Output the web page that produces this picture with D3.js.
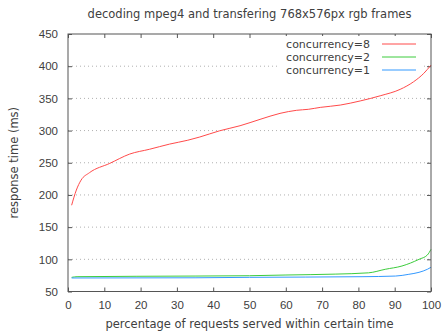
<!DOCTYPE html>
<html>
<head>
<meta charset="utf-8">
<script src="https://cdn.jsdelivr.net/npm/d3@7"></script>
<style>
  body { margin: 0; background: #fff; }
  svg { display: block; font-family: "DejaVu Sans", sans-serif; }
</style>
</head>
<body>
<div id="chart"></div>
<script>
// values
const pct8 = [1, 2.3, 3.6, 5.9, 11.5, 17, 22.5, 28, 33, 36.3, 41.8, 47.4, 52.9, 58.4, 63, 66.2, 69.5, 75, 80.5, 86, 91.5, 95.2, 98, 100];
const conc8 = [184, 207.6, 223, 234.5, 249, 263.5, 271, 279, 285, 290, 299.7, 307.5, 317.4, 326.7, 331.5, 333, 336, 339.6, 346, 354, 364, 375.8, 388.8, 401.7];

const pct2 = [1, 2.5, 35, 50, 59.8, 73.6, 82.8, 87.4, 92, 96.7, 99, 100];
const conc2 = [72, 73, 74, 74.5, 75.6, 77, 79, 84.5, 89.6, 100, 106.7, 115.5];

const pct1 = [1, 35, 50, 81, 90.2, 93.9, 96.7, 99, 100];
const conc1 = [71, 71.3, 72, 73, 74, 76.7, 79.8, 84.5, 87.6];

const series = [
  {name: "concurrency=8", pct: pct8, val: conc8, color: "#ff4a4a"},
  {name: "concurrency=2", pct: pct2, val: conc2, color: "#3ccc3c"},
  {name: "concurrency=1", pct: pct1, val: conc1, color: "#3399ff"}
];

const xTicks = d3.range(0, 101, 10);
const yTicks = d3.range(50, 451, 50);

const width = 443, height = 331;
const margin = {top: 34, right: 12, bottom: 39.5, left: 68};
const textColor = "#404040";
const frameColor = "#555";

const svg = d3.select("#chart").append("svg")
  .attr("width", width)
  .attr("height", height);

const x = d3.scaleLinear().domain([0, 100]).range([margin.left, width - margin.right]);
const y = d3.scaleLinear().domain([50, 450]).range([height - margin.bottom, margin.top]);

// grid
svg.append("g")
  .selectAll("line")
  .data(yTicks.slice(1, -1))
  .join("line")
  .attr("x1", x(0)).attr("x2", x(100))
  .attr("y1", d => y(d)).attr("y2", d => y(d))
  .attr("stroke", "#b0b0b0")
  .attr("stroke-dasharray", "1,3");

// axes (ticks inside, mirrored)
const fontSize = 11.5;
function styleAxis(g, showText) {
  g.select(".domain").remove();
  g.selectAll("line").attr("stroke", frameColor);
  g.selectAll("text")
    .attr("fill", textColor)
    .style("font-size", fontSize + "px")
    .style("display", showText ? null : "none");
}

svg.append("g")
  .attr("transform", `translate(0,${y(50)})`)
  .call(d3.axisBottom(x).tickValues(xTicks).tickSize(-4).tickPadding(9))
  .call(g => styleAxis(g, true));

svg.append("g")
  .attr("transform", `translate(0,${y(450)})`)
  .call(d3.axisTop(x).tickValues(xTicks).tickSize(-4))
  .call(g => styleAxis(g, false));

svg.append("g")
  .attr("transform", `translate(${x(0)},0)`)
  .call(d3.axisLeft(y).tickValues(yTicks).tickSize(-4).tickPadding(10))
  .call(g => styleAxis(g, true));

svg.append("g")
  .attr("transform", `translate(${x(100)},0)`)
  .call(d3.axisRight(y).tickValues(yTicks).tickSize(-4))
  .call(g => styleAxis(g, false));

// legend box (opaque, hides grid)
const legendRight = 416, sampleLen = 34, rowH = 13, legendTop = 44;
svg.append("rect")
  .attr("x", 278).attr("y", legendTop - 8)
  .attr("width", legendRight - 278 + 8).attr("height", rowH * 3 + 2)
  .attr("fill", "#fff");

// lines
const line = d3.line()
  .x(d => x(d[0]))
  .y(d => y(d[1]))
  .curve(d3.curveMonotoneX);

svg.append("g")
  .selectAll("path")
  .data(series)
  .join("path")
  .attr("fill", "none")
  .attr("stroke", d => d.color)
  .attr("stroke-width", 1)
  .attr("d", d => line(d.pct.map((p, i) => [p, d.val[i]])));

// frame
svg.append("rect")
  .attr("x", x(0)).attr("y", y(450))
  .attr("width", x(100) - x(0)).attr("height", y(50) - y(450))
  .attr("fill", "none")
  .attr("stroke", frameColor);

// legend entries
const legend = svg.append("g")
  .selectAll("g")
  .data(series)
  .join("g")
  .attr("transform", (d, i) => `translate(0,${legendTop + i * rowH})`);

legend.append("text")
  .attr("x", legendRight - sampleLen - 12)
  .attr("dy", "0.35em")
  .attr("text-anchor", "end")
  .attr("fill", textColor)
  .style("font-size", "11px")
  .text(d => d.name);

legend.append("line")
  .attr("x1", legendRight - sampleLen).attr("x2", legendRight)
  .attr("stroke", d => d.color);

// titles
svg.append("text")
  .attr("x", (x(0) + x(100)) / 2).attr("y", 14)
  .attr("dy", "0.35em")
  .attr("text-anchor", "middle")
  .attr("fill", textColor)
  .style("font-size", "11.5px")
  .text("decoding mpeg4 and transfering 768x576px rgb frames");

svg.append("text")
  .attr("x", (x(0) + x(100)) / 2).attr("y", 324)
  .attr("dy", "0.35em")
  .attr("text-anchor", "middle")
  .attr("fill", textColor)
  .style("font-size", "11.5px")
  .text("percentage of requests served within certain time");

svg.append("text")
  .attr("transform", `translate(14,${(y(50) + y(450)) / 2}) rotate(-90)`)
  .attr("dy", "0.35em")
  .attr("text-anchor", "middle")
  .attr("fill", textColor)
  .style("font-size", "11.5px")
  .text("response time (ms)");
</script>
</body>
</html>
